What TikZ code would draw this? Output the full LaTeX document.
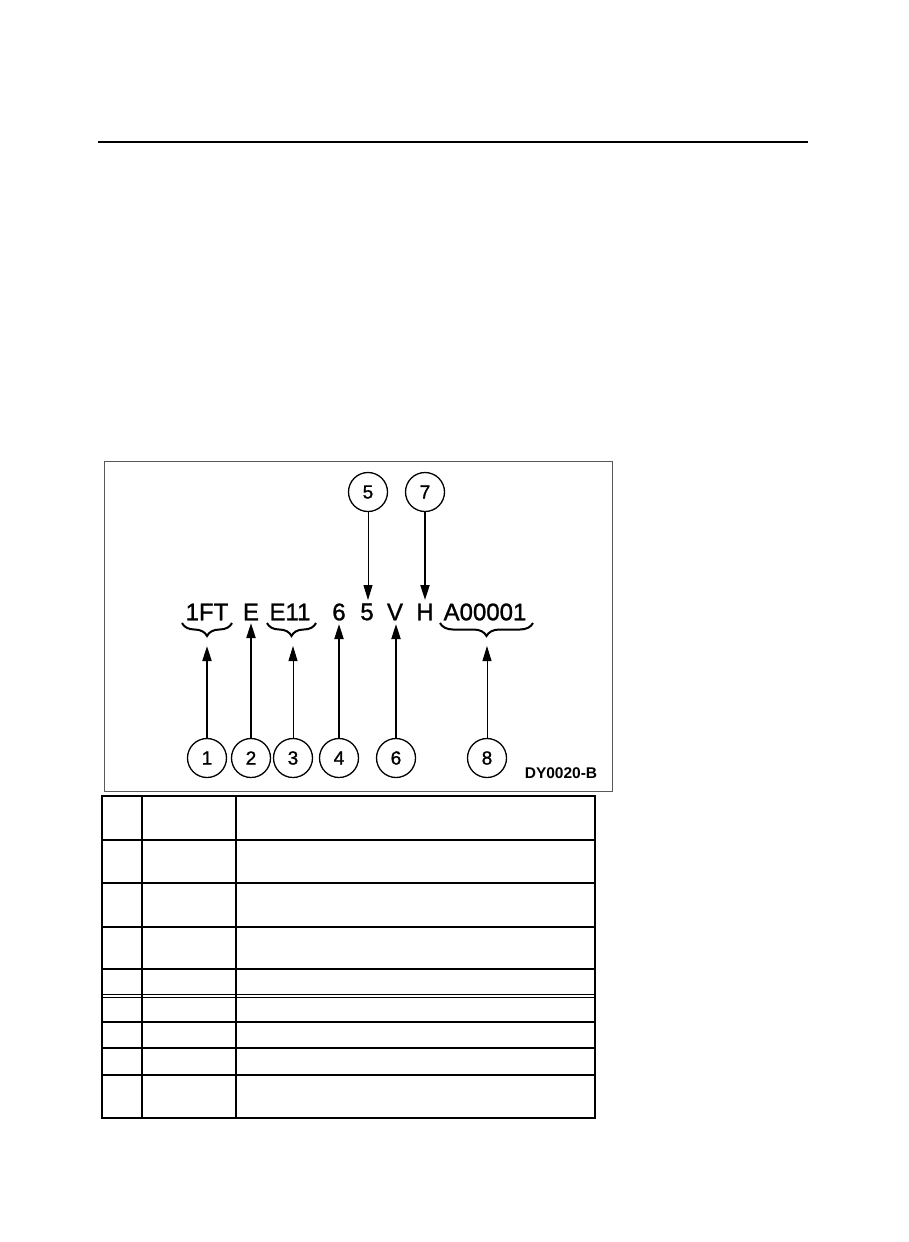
\documentclass[tikz,border=0pt]{standalone}
\usepackage{fontspec}
\setmainfont{Liberation Sans}
\newfontfamily\heavyfont{Liberation Sans}[FakeBold=1.2]
\usetikzlibrary{arrows.meta,decorations.pathreplacing}
\begin{document}
\begin{tikzpicture}[x=1pt,y=-1pt,
  num/.style={circle,draw,line width=1.3pt,minimum size=39pt,inner sep=0pt,font=\heavyfont\fontsize{19}{19}\selectfont},
  code/.style={inner sep=0pt,font=\heavyfont\fontsize{24}{24}\selectfont},
  thickarrow/.style={line width=2pt,-{Triangle[length=15pt,width=9pt]}},
  thinarrow/.style={line width=1pt,-{Triangle[length=15pt,width=9pt]}},
  codebrace/.style={line width=2pt,decorate,decoration={brace,mirror,amplitude=13pt}},
  tline/.style={line width=2pt},
]
\useasboundingbox (0,0) rectangle (909,1242);
% top rule
\draw[line width=2.5pt] (98,142) -- (808,142);
% frame
\draw[line width=1pt,black!65] (104,461) rectangle (612,791);
% code characters
\node[code] (t1FT) at (207,612) {1FT};
\node[code] (tE) at (251,612) {E};
\node[code] (tE11) at (290,612) {E11};
\node[code] (t6) at (339,612) {6};
\node[code] (t5) at (367,612) {5};
\node[code] (tV) at (395,612) {V};
\node[code] (tH) at (425,612) {H};
\node[code] (tA) at (485,612) {A00001};
% braces
\draw[codebrace] (182,623) -- (232,623);
\draw[codebrace] (267,623) -- (316,623);
\draw[codebrace] (440,623) -- (533,623);
% circles
\node[num] (c5) at (368,492) {5};
\node[num] (c7) at (425,492) {7};
\node[num] (c1) at (207,758) {1};
\node[num] (c2) at (251,758) {2};
\node[num] (c3) at (293,758) {3};
\node[num] (c4) at (339,758) {4};
\node[num] (c6) at (396,758) {6};
\node[num] (c8) at (487,758) {8};
% arrow tips
\coordinate (p5) at (368,600);
\coordinate (p7) at (425,600);
\coordinate (p1) at (207,646);
\coordinate (p2) at (251,623);
\coordinate (p3) at (293,646);
\coordinate (p4) at (339,624);
\coordinate (p6) at (396,624);
\coordinate (p8) at (487,646);
\draw[thinarrow] (c5.south) -- (p5);
\draw[thickarrow] (c7.south) -- (p7);
\draw[thickarrow] (c1.north) -- (p1);
\draw[thickarrow] (c2.north) -- (p2);
\draw[thinarrow] (c3.north) -- (p3);
\draw[thickarrow] (c4.north) -- (p4);
\draw[thickarrow] (c6.north) -- (p6);
\draw[thinarrow] (c8.north) -- (p8);
\node[inner sep=0pt,font=\fontsize{15.5}{15.5}\selectfont\bfseries] (lbl) at (561,773) {DY0020-B};
% table
\draw[tline] (102,796) rectangle (595,1118);
\draw[tline] (142,796) -- (142,1118);
\draw[tline] (236,796) -- (236,1118);
\foreach \yy in {840,883,927,969,1022,1048,1075}
  \draw[tline] (102,\yy) -- (595,\yy);
\draw[line width=0.8pt] (102,994.5) -- (595,994.5);
\draw[line width=0.8pt] (102,997) -- (595,997);
\end{tikzpicture}
\end{document}
